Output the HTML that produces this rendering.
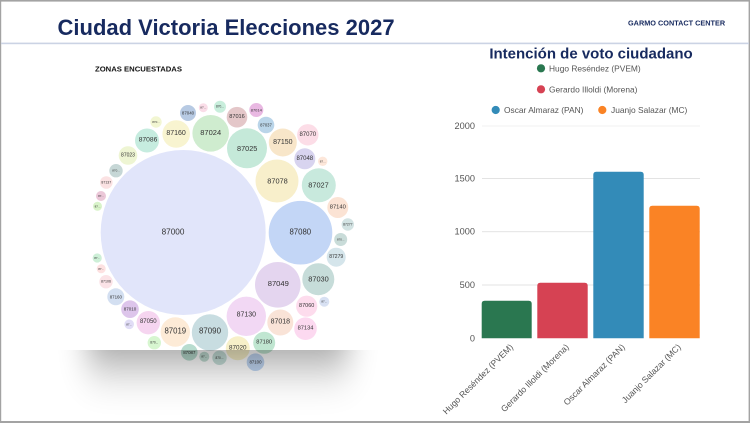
<!DOCTYPE html>
<html>
<head>
<meta charset="utf-8">
<style>
  html, body { margin: 0; padding: 0; background: #ffffff; }
  svg { display: block; }
  text { font-family: "Liberation Sans", Arial, sans-serif; }
</style>
</head>
<body>
<svg width="750" height="423" viewBox="0 0 750 423" xmlns="http://www.w3.org/2000/svg">
  <defs>
    <filter id="blur" filterUnits="userSpaceOnUse" x="0" y="200" width="450" height="250">
      <feGaussianBlur stdDeviation="15 25"/>
    </filter>
    <clipPath id="belowImg">
      <rect x="0" y="350" width="450" height="70"/>
    </clipPath>
  </defs>

  <rect x="0" y="0" width="750" height="423" fill="#ffffff"/>

  <!-- slide frame -->
  <rect x="0" y="0" width="750" height="1.6" fill="#a3a3a3"/>
  <rect x="0" y="0" width="1.2" height="423" fill="#a3a3a3"/>
  <rect x="748.6" y="0" width="1.4" height="423" fill="#a3a3a3"/>
  <rect x="0" y="421" width="750" height="2" fill="#a3a3a3"/>

  <!-- header -->
  <text x="57.5" y="35" font-size="22" font-weight="bold" fill="#172a5f">Ciudad Victoria Elecciones 2027</text>
  <text x="628" y="25.4" font-size="7.3" font-weight="bold" fill="#172a5f">GARMO CONTACT CENTER</text>
  <rect x="1" y="42.6" width="748" height="1.6" fill="#cbd3e4"/>

  <!-- bubble panel -->
  <text x="95" y="71.6" font-size="7.7" font-weight="bold" fill="#111">ZONAS ENCUESTADAS</text>

  <g>
    <circle cx="183.2" cy="232.5" r="82.5" fill="#e1e5fa"/>
    <circle cx="300.5" cy="232.7" r="31.8" fill="#c3d6f6"/>
    <circle cx="210.7" cy="133.3" r="18.3" fill="#cfeccf"/>
    <circle cx="247" cy="148.3" r="20" fill="#c5e9d9"/>
    <circle cx="176.2" cy="134" r="13.8" fill="#f8f4d0"/>
    <circle cx="147" cy="140.5" r="12" fill="#c6ecdf"/>
    <circle cx="188" cy="113" r="8" fill="#b7cae3"/>
    <circle cx="203.3" cy="107.7" r="4.5" fill="#fadde8"/>
    <circle cx="220" cy="106.7" r="6" fill="#c8eedc"/>
    <circle cx="237" cy="117.2" r="10.3" fill="#e4c7c9"/>
    <circle cx="256.3" cy="110" r="7" fill="#e9b8e2"/>
    <circle cx="266" cy="125" r="8.3" fill="#bad5e9"/>
    <circle cx="282.8" cy="142.5" r="14" fill="#f8e6c9"/>
    <circle cx="307.8" cy="134.8" r="10.7" fill="#fcdde7"/>
    <circle cx="304.8" cy="158.8" r="10.5" fill="#d8d4ef"/>
    <circle cx="322.7" cy="161.3" r="4.7" fill="#fde7da"/>
    <circle cx="277" cy="181" r="21.5" fill="#f8efcb"/>
    <circle cx="318.8" cy="185.3" r="17" fill="#c8e9dd"/>
    <circle cx="156" cy="122" r="5.7" fill="#f2f6d2"/>
    <circle cx="128" cy="155.5" r="9.3" fill="#eef5d3"/>
    <circle cx="116" cy="170.7" r="6.7" fill="#c6d7d6"/>
    <circle cx="106.3" cy="182.5" r="6.3" fill="#fbe2e3"/>
    <circle cx="101" cy="196" r="5" fill="#ebc7d8"/>
    <circle cx="97.5" cy="206.3" r="4.5" fill="#d8f3c9"/>
    <circle cx="337.8" cy="207.5" r="10.5" fill="#fbe3d4"/>
    <circle cx="347.8" cy="224.5" r="6.2" fill="#d3e3e3"/>
    <circle cx="340.7" cy="239.5" r="6.5" fill="#c9dcd9"/>
    <circle cx="336.2" cy="257.2" r="9.5" fill="#d5e5eb"/>
    <circle cx="318.3" cy="279.2" r="16" fill="#c6dcd9"/>
    <circle cx="277.8" cy="284.8" r="22.8" fill="#e4d5ef"/>
    <circle cx="324.3" cy="301.7" r="5" fill="#d8e1f3"/>
    <circle cx="306.7" cy="306.2" r="10.6" fill="#fddced"/>
    <circle cx="246.3" cy="316.3" r="19.7" fill="#f2d8f4"/>
    <circle cx="280.3" cy="322.5" r="13" fill="#f9e3d7"/>
    <circle cx="305.5" cy="328.7" r="11.3" fill="#fcd9f0"/>
    <circle cx="210" cy="332.5" r="18.2" fill="#c8dde1"/>
    <circle cx="175.3" cy="332" r="14.7" fill="#fdebd7"/>
    <circle cx="148.3" cy="322.7" r="11.7" fill="#f6d5f0"/>
    <circle cx="129.2" cy="324.3" r="4.8" fill="#e1ddf6"/>
    <circle cx="130" cy="309.2" r="8.8" fill="#ddc5eb"/>
    <circle cx="115.8" cy="296.8" r="8.5" fill="#d3dff1"/>
    <circle cx="106" cy="281.7" r="6.7" fill="#fbe3e7"/>
    <circle cx="101.2" cy="268.8" r="4.5" fill="#fde1e1"/>
    <circle cx="97.2" cy="258" r="4.6" fill="#cdefd7"/>
    <circle cx="154.3" cy="342.7" r="6.7" fill="#d7f6d0"/>
    <circle cx="237.8" cy="348.3" r="12" fill="#f7f0c9"/>
    <circle cx="264.2" cy="342.8" r="11" fill="#c0e6d1"/>
    <circle cx="189.3" cy="352.3" r="8.3" fill="#b8dccf"/>
    <circle cx="204.3" cy="356.7" r="5" fill="#c0dcd2"/>
    <circle cx="219.5" cy="357.8" r="7.2" fill="#c6dfd9"/>
    <circle cx="255.5" cy="362.2" r="8.8" fill="#c0d6f2"/>
  </g>

  <g fill="#333" text-anchor="middle" dominant-baseline="central">
    <text x="173" y="232" font-size="8.2">87000</text>
    <text x="300.3" y="232" font-size="7.8">87080</text>
    <text x="210.7" y="132.5" font-size="7.5">87024</text>
    <text x="247.2" y="148.3" font-size="7.3">87025</text>
    <text x="176.1" y="133.5" font-size="7">87160</text>
    <text x="148" y="140" font-size="6.7">87086</text>
    <text x="188" y="113" font-size="4.4">87040</text>
    <text x="203.3" y="107.7" font-size="3.1">87...</text>
    <text x="220" y="106.7" font-size="3.2">870...</text>
    <text x="237" y="117.2" font-size="5.6">87016</text>
    <text x="256.3" y="110" font-size="4">87014</text>
    <text x="266" y="125" font-size="4.2">87037</text>
    <text x="282.8" y="142.3" font-size="7">87150</text>
    <text x="307.8" y="134.8" font-size="6">87070</text>
    <text x="304.8" y="158.8" font-size="6">87048</text>
    <text x="322.7" y="161.3" font-size="3">87...</text>
    <text x="277.5" y="181" font-size="7.4">87078</text>
    <text x="318.5" y="184.8" font-size="7.4">87027</text>
    <text x="156" y="122" font-size="3">870...</text>
    <text x="128" y="155.5" font-size="5">87023</text>
    <text x="116" y="170.7" font-size="3">870...</text>
    <text x="106.3" y="182.5" font-size="3.5">87137</text>
    <text x="101" y="196" font-size="3">87...</text>
    <text x="97.5" y="206.3" font-size="3">87...</text>
    <text x="337.8" y="207.5" font-size="5.8">87140</text>
    <text x="347.8" y="224.5" font-size="3.4">87277</text>
    <text x="340.7" y="239.5" font-size="3">870...</text>
    <text x="336.2" y="257.2" font-size="5">87279</text>
    <text x="318.5" y="279" font-size="7.4">87030</text>
    <text x="278.3" y="283.6" font-size="7.6">87049</text>
    <text x="324.3" y="301.7" font-size="3">87...</text>
    <text x="306.7" y="306.2" font-size="5.5">87060</text>
    <text x="246.3" y="315.2" font-size="7">87130</text>
    <text x="280.3" y="322" font-size="7">87018</text>
    <text x="305.5" y="328.7" font-size="5.7">87134</text>
    <text x="210" y="331.2" font-size="7.9">87090</text>
    <text x="175.3" y="331.2" font-size="7.8">87019</text>
    <text x="148.3" y="322.2" font-size="6">87050</text>
    <text x="129.2" y="324.3" font-size="3">87...</text>
    <text x="130" y="309.2" font-size="4.5">87010</text>
    <text x="115.8" y="296.8" font-size="4.4">87160</text>
    <text x="106" y="281.7" font-size="3.6">87106</text>
    <text x="101.2" y="268.8" font-size="3">87...</text>
    <text x="97.2" y="258" font-size="3">87...</text>
    <text x="154.3" y="342.7" font-size="3.2">870...</text>
    <text x="237.8" y="348" font-size="6.3">87020</text>
    <text x="264.2" y="342.5" font-size="5.7">87180</text>
    <text x="189.3" y="352.3" font-size="4.4">87087</text>
    <text x="204.3" y="356.7" font-size="3">87...</text>
    <text x="219.5" y="357.8" font-size="3.2">870...</text>
    <text x="255.5" y="362.2" font-size="4.3">87100</text>
  </g>

  <!-- shadow below bubble image -->
  <g clip-path="url(#belowImg)">
    <rect x="88" y="280" width="260" height="82" fill="#000" opacity="0.4" filter="url(#blur)"/>
  </g>

  <!-- bar chart -->
  <text x="591" y="58.3" font-size="15" font-weight="bold" fill="#172a5f" text-anchor="middle">Intención de voto ciudadano</text>

  <g font-size="8.4" fill="#555" dominant-baseline="central">
    <circle cx="541" cy="68.3" r="4.1" fill="#2a7750"/>
    <text x="549" y="68.5">Hugo Reséndez (PVEM)</text>
    <circle cx="541" cy="89.3" r="4.1" fill="#d64253"/>
    <text x="549" y="89.5">Gerardo Illoldi (Morena)</text>
    <circle cx="495.7" cy="110" r="4.1" fill="#338bb8"/>
    <text x="504" y="110.2">Oscar Almaraz (PAN)</text>
    <circle cx="602.3" cy="110" r="4.1" fill="#fa8325"/>
    <text x="611" y="110.2">Juanjo Salazar (MC)</text>
  </g>

  <!-- gridlines -->
  <g>
    <rect x="482" y="125.5" width="218" height="1" fill="#f1f1f1"/>
    <rect x="482" y="178" width="218" height="1" fill="#e3e3e3"/>
    <rect x="482" y="231.2" width="218" height="1" fill="#e3e3e3"/>
    <rect x="482" y="284.5" width="218" height="1" fill="#e3e3e3"/>
  </g>
  <g font-size="9.2" fill="#555" text-anchor="end" dominant-baseline="central">
    <text x="475" y="126">2000</text>
    <text x="475" y="178.5">1500</text>
    <text x="475" y="231.7">1000</text>
    <text x="475" y="285">500</text>
    <text x="475" y="338.3">0</text>
  </g>

  <!-- bars -->
  <path d="M481.7,338.3 V303.7 Q481.7,300.7 484.7,300.7 H528.7 Q531.7,300.7 531.7,303.7 V338.3 Z" fill="#2a7750"/>
  <path d="M537.3,338.3 V285.7 Q537.3,282.7 540.3,282.7 H584.7 Q587.7,282.7 587.7,285.7 V338.3 Z" fill="#d64253"/>
  <path d="M593.3,338.3 V174.7 Q593.3,171.7 596.3,171.7 H640.7 Q643.7,171.7 643.7,174.7 V338.3 Z" fill="#338bb8"/>
  <path d="M649.3,338.3 V208.7 Q649.3,205.7 652.3,205.7 H696.7 Q699.7,205.7 699.7,208.7 V338.3 Z" fill="#fa8325"/>

  <!-- x labels -->
  <g font-size="8.7" fill="#555" text-anchor="end" dominant-baseline="central">
    <text transform="translate(511.5,345.5) rotate(-45)">Hugo Reséndez (PVEM)</text>
    <text transform="translate(567.3,345.5) rotate(-45)">Gerardo Illoldi (Morena)</text>
    <text transform="translate(623.3,345.5) rotate(-45)">Oscar Almaraz (PAN)</text>
    <text transform="translate(679.3,345.5) rotate(-45)">Juanjo Salazar (MC)</text>
  </g>
</svg>
</body>
</html>
